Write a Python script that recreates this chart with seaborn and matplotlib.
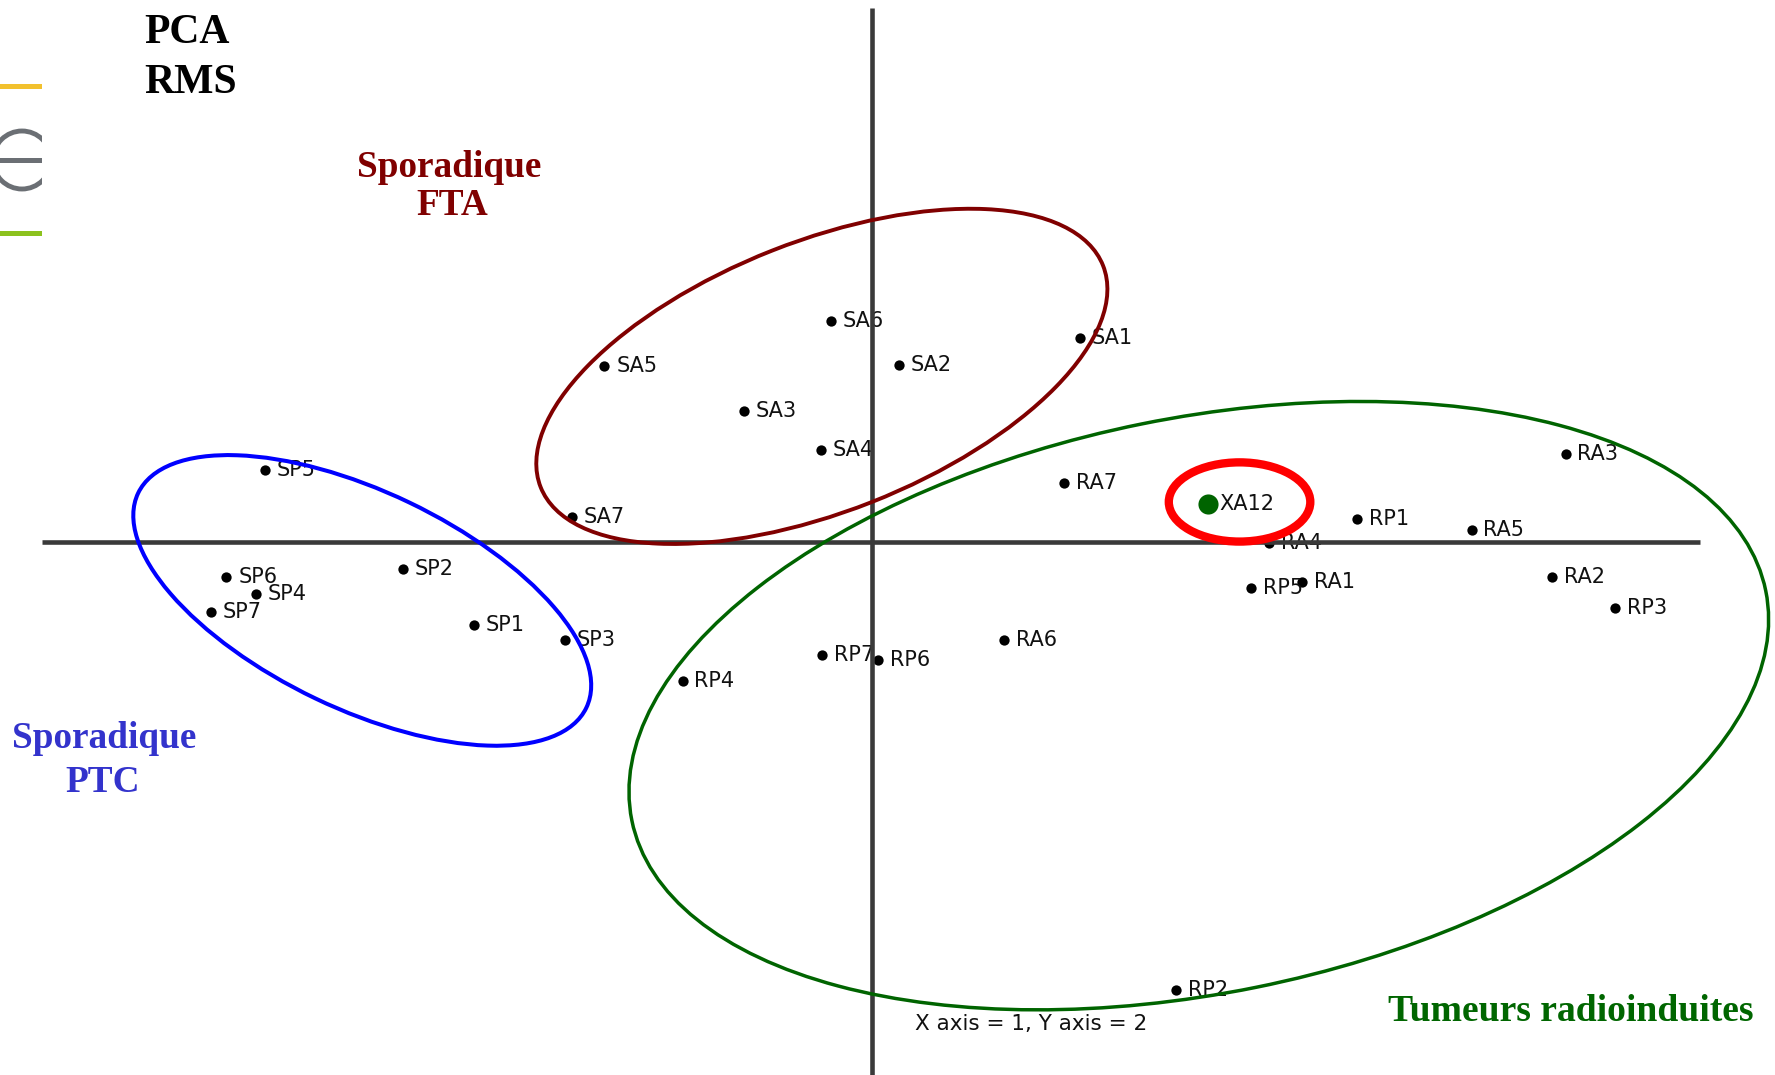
import matplotlib
matplotlib.use("Agg")
import matplotlib.pyplot as plt
from matplotlib.patches import Ellipse, Rectangle
import pandas as pd
import seaborn as sns

# PCA scores (component 1, component 2) for each sample
labels = ["SA1", "SA2", "SA3", "SA4", "SA5", "SA6", "SA7",
          "SP1", "SP2", "SP3", "SP4", "SP5", "SP6", "SP7",
          "RA1", "RA2", "RA3", "RA4", "RA5", "RA6", "RA7",
          "RP1", "RP2", "RP3", "RP4", "RP5", "RP6", "RP7"]
pc1 = [1.84, 0.24, -1.13, -0.45, -2.36, -0.36, -2.65,
       -3.51, -4.14, -2.71, -5.44, -5.36, -5.70, -5.84,
       3.80, 6.01, 6.13, 3.51, 5.30, 1.17, 1.70,
       4.29, 2.69, 6.57, -1.67, 3.35, 0.06, -0.44]
pc2 = [1.80, 1.56, 1.15, 0.81, 1.55, 1.95, 0.22,
       -0.74, -0.24, -0.87, -0.46, 0.63, -0.31, -0.62,
       -0.36, -0.31, 0.77, -0.01, 0.10, -0.87, 0.52,
       0.20, -3.96, -0.59, -1.23, -0.41, -1.05, -1.00]

# Unknown sample projected onto the same plane
new_label = "XA12"
new_pc1 = [2.97]
new_pc2 = [0.33]

# Group ellipses: centre x, centre y, width, height, angle (deg), colour
group_cx = [-4.50, -0.44, 2.89]
group_cy = [-0.52, 1.46, -1.45]
group_w = [4.39, 5.34, 10.22]
group_h = [1.92, 2.39, 5.08]
group_angle = [-25.6, 21.5, 11.45]
group_colors = ["#0000ff", "#800000", "#006400"]
group_lw = [2.9, 2.8, 2.5]

# Highlight ring around the unknown sample
ring_center = (3.25, 0.35)
ring_size = (1.25, 0.70)

df = pd.DataFrame({"pc1": pc1, "pc2": pc2, "label": labels})
df_new = pd.DataFrame({"pc1": new_pc1, "pc2": new_pc2, "label": [new_label]})

sns.set_theme(style="white")
plt.rcParams["font.family"] = ["DejaVu Sans"]

fig = plt.figure(figsize=(17.75, 10.75), dpi=100)
ax = fig.add_axes([0, 0, 1, 1])
ax.set_xlim(-7.70, 7.98)
ax.set_ylim(-4.714, 4.786)
ax.axis("off")

# PC axes through the origin
axis_color = "#3a3a3a"
ax.plot([-7.33, 7.32], [0, 0], color=axis_color, lw=3.3, zorder=4,
        solid_capstyle="butt")
ax.plot([0, 0], [4.716, -4.9], color=axis_color, lw=3.3, zorder=4,
        solid_capstyle="butt")

# Sample points and their names
sns.scatterplot(data=df, x="pc1", y="pc2", color="black", s=55,
                linewidth=0, ax=ax, legend=False, zorder=3)
sns.scatterplot(data=df_new, x="pc1", y="pc2", color="#006400", s=210,
                linewidth=0, ax=ax, legend=False, zorder=3)
for _, row in pd.concat([df, df_new]).iterrows():
    ax.annotate(row["label"], (row["pc1"], row["pc2"]), xytext=(8.5, 0),
                textcoords="offset points", va="center", ha="left",
                fontsize=15, color="#111111", zorder=3)

# Group ellipses
for cx, cy, w, h, a, c, lw in zip(group_cx, group_cy, group_w, group_h,
                                   group_angle, group_colors, group_lw):
    ax.add_patch(Ellipse((cx, cy), w, h, angle=a, fill=False,
                         edgecolor=c, lw=lw, zorder=5))
ax.add_patch(Ellipse(ring_center, ring_size[0], ring_size[1], fill=False,
                     edgecolor="#ff0000", lw=6, zorder=5))

ax.text(0.38, -4.32, "X axis = 1, Y axis = 2", fontsize=15.5,
        color="#111111", ha="left", va="baseline")

# Headings and group names
serif = ["Liberation Serif", "DejaVu Serif"]
T = ax.transAxes
ax.text(144 / 1775, 1 - 42.7 / 1075, "PCA", transform=T, family=serif,
        fontweight="bold", fontsize=30, color="black", va="baseline")
ax.text(144 / 1775, 1 - 92.7 / 1075, "RMS", transform=T, family=serif,
        fontweight="bold", fontsize=30, color="black", va="baseline")

ax.text(449 / 1775, 1 - 176.7 / 1075, "Sporadique", transform=T,
        family=serif, fontweight="bold", fontsize=26.8, color="#800000",
        ha="center", va="baseline")
ax.text(452 / 1775, 1 - 215 / 1075, "FTA", transform=T, family=serif,
        fontweight="bold", fontsize=26.8, color="#800000",
        ha="center", va="baseline")

ax.text(104 / 1775, 1 - 748 / 1075, "Sporadique", transform=T,
        family=serif, fontweight="bold", fontsize=26.8, color="#3333cc",
        ha="center", va="baseline")
ax.text(103 / 1775, 1 - 792 / 1075, "PTC", transform=T, family=serif,
        fontweight="bold", fontsize=26.8, color="#3333cc",
        ha="center", va="baseline")

ax.text(1388 / 1775, 1 - 1020.7 / 1075, "Tumeurs radioinduites",
        transform=T, family=serif, fontweight="bold", fontsize=27.1,
        color="#006600", ha="left", va="baseline")

# Small logo strip at the left edge
W, H = 1775.0, 1075.0
ax.add_patch(Rectangle((0, 1 - 89 / H), 42 / W, 5 / H, transform=T,
                       color="#f2c12e", lw=0, zorder=6))
ax.add_patch(Rectangle((0, 1 - 236 / H), 42 / W, 5 / H, transform=T,
                       color="#8cc21e", lw=0, zorder=6))
clip = Rectangle((0, 0), 42 / W, 1, transform=T, visible=False)
ax.add_patch(clip)
ring = Ellipse((22 / W, 1 - 160 / H), 58 / W, 58 / H, transform=T,
               fill=False, edgecolor="#6b6f74", lw=3.5, zorder=6)
ax.add_patch(ring)
ring.set_clip_path(clip)
ax.add_patch(Rectangle((0, 1 - 162.5 / H), 42 / W, 5 / H, transform=T,
                       color="#6b6f74", lw=0, zorder=6))

fig.savefig("out.png", dpi=100, facecolor="white")
